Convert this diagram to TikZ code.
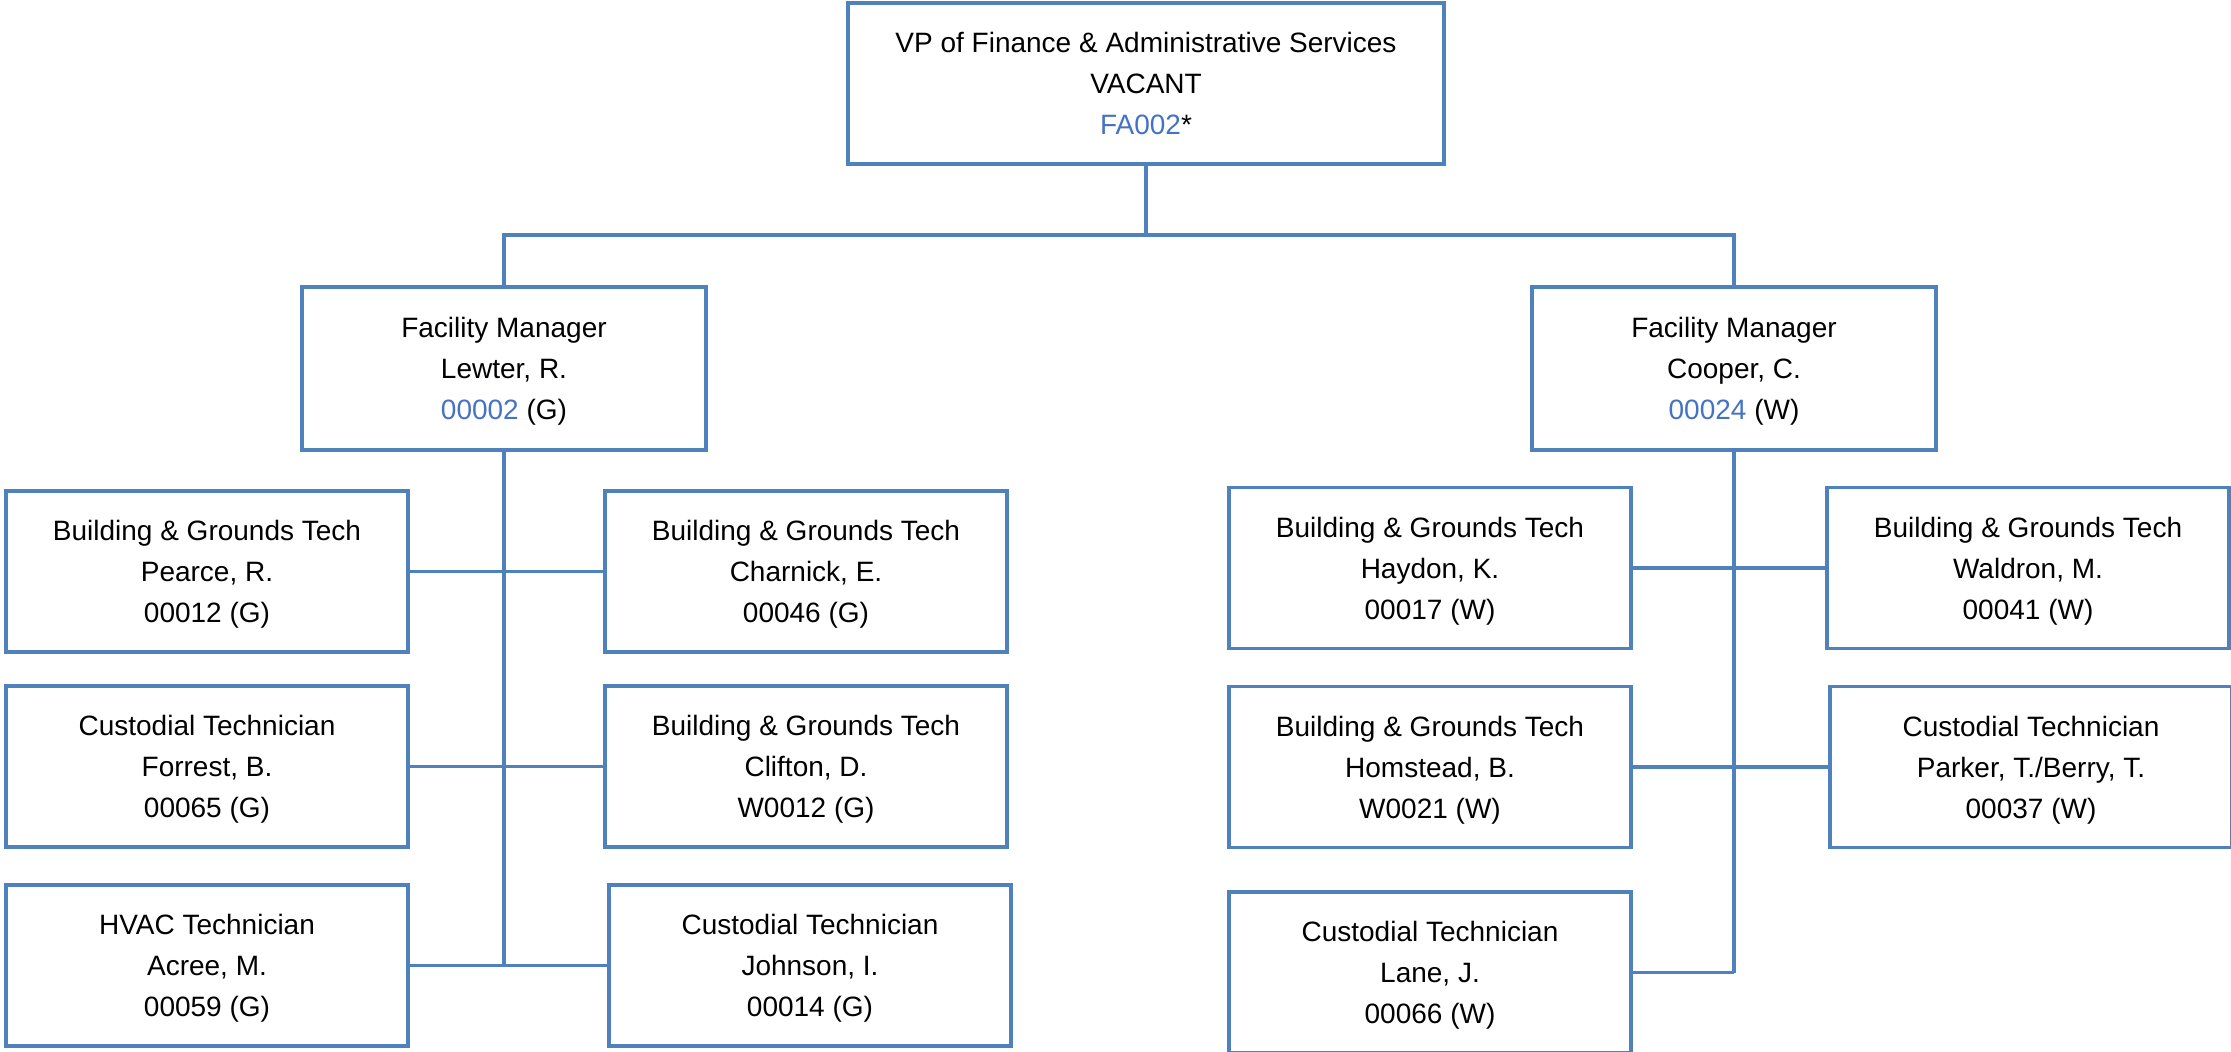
\documentclass[tikz,border=0pt]{standalone}
\usepackage{fontspec}
\setmainfont{Liberation Sans}
\usepackage{tikz}
\definecolor{boxblue}{HTML}{4F81BD}
\definecolor{codeblue}{HTML}{4472C4}

\begin{document}
\begin{tikzpicture}[x=1pt, y=-1pt,
    box/.style={draw=boxblue, line width=3.2pt, rectangle, align=center, inner sep=0pt, text depth=0pt, minimum width=402pt, minimum height=161pt, font=\fontsize{28}{41}\selectfont},
    link/.style={draw=boxblue, line width=3.2pt}]
    \useasboundingbox (0, 0) rectangle (2231, 1052);
    \node (vp) [box, minimum width=596pt] at (1146, 83.5) {VP of Finance \& Administrative Services\\VACANT\\\textcolor{codeblue}{FA002}*};
    \node (fmL) [box, minimum width=404pt, minimum height=163pt] at (504, 368.5) {Facility Manager\\Lewter, R.\\\textcolor{codeblue}{00002} (G)};
    \node (fmR) [box, minimum width=404pt, minimum height=163pt] at (1734, 368.5) {Facility Manager\\Cooper, C.\\\textcolor{codeblue}{00024} (W)};
    \node (pearce) [box] at (207, 571.5) {Building \& Grounds Tech\\Pearce, R.\\00012 (G)};
    \node (charnick) [box] at (806, 571.5) {Building \& Grounds Tech\\Charnick, E.\\00046 (G)};
    \node (forrest) [box] at (207, 766.5) {Custodial Technician\\Forrest, B.\\00065 (G)};
    \node (clifton) [box] at (806, 766.5) {Building \& Grounds Tech\\Clifton, D.\\W0012 (G)};
    \node (acree) [box] at (207, 965.5) {HVAC Technician\\Acree, M.\\00059 (G)};
    \node (johnson) [box] at (810, 965.5) {Custodial Technician\\Johnson, I.\\00014 (G)};
    \node (haydon) [box] at (1430, 568) {Building \& Grounds Tech\\Haydon, K.\\00017 (W)};
    \node (waldron) [box] at (2028, 568) {Building \& Grounds Tech\\Waldron, M.\\00041 (W)};
    \node (homstead) [box] at (1430, 767) {Building \& Grounds Tech\\Homstead, B.\\W0021 (W)};
    \node (parker) [box] at (2031, 767) {Custodial Technician\\Parker, T./Berry, T.\\00037 (W)};
    \node (lane) [box] at (1430, 972.5) {Custodial Technician\\Lane, J.\\00066 (W)};
    \coordinate (bus) at (1146, 235);
    \draw [link] (vp.south) -- (bus);
    \draw [link] (fmL.north) |- (bus) -| (fmR.north);
    \draw [link] (fmL.south) -- (fmL.south |- acree.east);
    \draw [link] (fmR.south) -- (fmR.south |- lane.east);
    \foreach \n in {pearce, forrest, acree}
        \draw [link] (\n.east) -- (\n.east -| fmL.south);
    \foreach \n in {charnick, clifton, johnson}
        \draw [link] (fmL.south |- \n.west) -- (\n.west);
    \foreach \n in {haydon, homstead, lane}
        \draw [link] (\n.east) -- (\n.east -| fmR.south);
    \foreach \n in {waldron, parker}
        \draw [link] (fmR.south |- \n.west) -- (\n.west);
\end{tikzpicture}
\end{document}
